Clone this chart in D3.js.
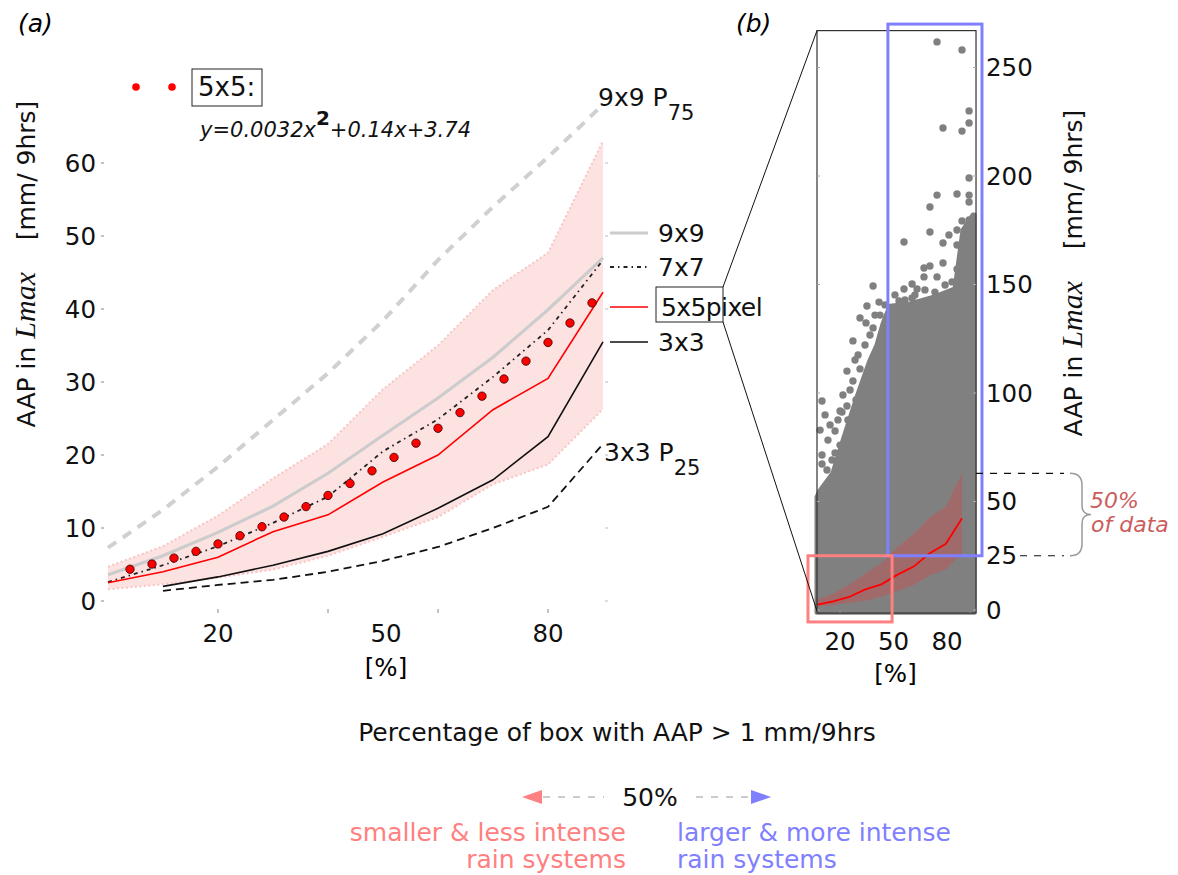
<!DOCTYPE html>
<html><head><meta charset="utf-8">
<script src="https://cdn.jsdelivr.net/npm/d3@7"></script>
<style>
body{margin:0;background:#fff}
svg{display:block}
text{font-family:"DejaVu Sans",sans-serif}
</style>
</head><body>
<svg id="c" width="1178" height="875"></svg>
<script>
// ---------- data ----------
const xBins        = [0,10,20,30,40,50,60,70,80,90];
const med9x9       = [3.6,6.2,9.4,13.0,17.5,22.7,27.8,33.4,39.9,47.0];
const med7x7       = [2.6,4.9,7.5,10.7,14.3,20.5,24.9,30.7,37.1,46.7];
const med5x5       = [2.5,4.0,6.0,9.5,11.8,16.3,20.0,26.2,30.5,42.3];
const med3x3       = [null,2.0,3.3,4.9,6.8,9.2,12.7,16.6,22.5,35.5];
const p75_9x9      = [7.3,12.5,18.4,24.8,31.2,38.4,46.7,54.0,60.8,68.0];
const p25_3x3      = [null,1.4,2.2,2.9,4.0,5.5,7.4,10.0,12.9,21.5];
const band5x5Upper = [4.7,7.5,11.7,16.8,21.5,29.0,35.0,42.6,47.7,63.0];
const band5x5Lower = [1.6,2.3,3.2,4.3,6.2,8.8,11.5,16.0,18.7,26.3];
const fitX = [4,8,12,16,20,24,28,32,36,40,44,48,52,56,60,64,68,72,76,80,84,88];
const fitY = [4.35,5.06,5.88,6.80,7.82,8.94,10.17,11.50,12.93,14.46,16.10,17.83,19.67,21.62,23.66,25.81,28.06,30.41,32.86,35.42,38.08,40.84];
const aYTicks  = [0,10,20,30,40,50,60];
const aXTicks  = [20,40,60,80];
const aXLabels = [20,50,80];
const legendNames = ["9x9","7x7","5x5pixel","3x3"];

// panel (b)
const bYTicks  = [0,25,50,100,150,200,250];
const bXTicks  = [20,93];
const bXLabels = [20,50,80];
const scatterEnvX   = [0,1.9,9.9,16.1,24.8,32.9,37.2,41.0,45.3,57.7,72.0,85.7,90.6,96.8,97.5];
const scatterEnvTop = [52,55,63,78,98,115,122,132,140,141,144,148,175,182,182];
const outlierX = [74.5,90.0,94.4,94.4,78.2,90.0,94.4,74.5,86.9,94.4,94.4,70.1,90.0,94.4,70.1,54.0,81.9,86.9,78.2,86.9,78.2,66.4,70.1,66.4,74.5,86.9,34.8,54.0,59.0,62.1,38.5,31.0,50.9,59.0,26.7,30.4,34.8,22.3,18.6,26.7,22.3,3.1,15.5,18.6,27.3,11.2,3.1,11.2,3.1,18.6,22.3,14.3,
  6.8,8.1,13.0,16.1,20.5,23.6,25.5,29.8,32.9,36.0,39.1,42.2,6.2,9.3,14.3,19.2,24.2,27.9,31.7,35.4,38.5,41.6,1.9,5.0,48.4,54.6,60.8,67.0,73.2,79.5,83.8,87.5,90.0,91.9,93.7];
const outlierY = [261.8,258.1,230.0,224.4,222.1,220.7,199.1,191.2,191.7,191.2,188.0,185.7,179.3,179.7,174.2,169.6,172.8,175.1,169.1,168.2,159.9,157.6,158.5,153.5,153.5,157.1,149.3,147.9,150.2,147.9,141.9,140.1,142.4,143.8,134.6,132.3,130.0,124.0,110.1,111.1,105.5,96.3,91.2,94.0,93.1,82.5,71.4,72.4,67.3,77.0,82.0,91.7,
  78.3,85.3,87.6,99.1,101.4,115.2,117.5,122.1,126.7,135.9,135.9,140.6,64.5,69.1,76.0,87.6,96.8,101.4,108.3,115.2,122.1,126.7,82.9,89.9,145.2,142.9,145.2,147.5,146.5,149.8,151.2,156.7,161.3,165.9,170.5];
const bFrameX = [0,98.7];
const bFrameY = [-1.4,267];
const dataRange50 = [25,63];
const boxLarge = {x:[44,102.4], y:[25,270]};
const boxSmall = {x:[-5.6,46.6], y:[-5.5,25]};

// ---------- setup ----------
const FS = 25, FT = 24.5;
const svg = d3.select("#c");
svg.append("rect").attr("width",1178).attr("height",875).attr("fill","#fff");

const xA = d3.scaleLinear().domain([0,90]).range([108,603]);
const yA = d3.scaleLinear().domain([0,60]).range([601,163]);
const xB = d3.scaleLinear().domain([0,90]).range([817,962]);
const yB = d3.scaleLinear().domain([0,250]).range([610,67.5]);
const xBAxis = d3.scaleLinear().domain([20,80]).range([840,947]);

const pts = arr => xBins.map((x,i)=>({x, y:arr[i]})).filter(d=>d.y!=null);
const lineA = d3.line().x(d=>xA(d.x)).y(d=>yA(d.y));
const lineB = d3.line().x(d=>xB(d.x)).y(d=>yB(d.y));
const bandData = xBins.map((x,i)=>({x, lo:band5x5Lower[i], hi:band5x5Upper[i]}));

// ---------- panel (a) ----------
const gA = svg.append("g");
gA.append("path").datum(bandData)
  .attr("d", d3.area().x(d=>xA(d.x)).y0(d=>yA(d.lo)).y1(d=>yA(d.hi)))
  .attr("fill","#fde2e2");
[band5x5Upper, band5x5Lower].forEach(arr=>{
  gA.append("path").datum(pts(arr)).attr("d",lineA).attr("fill","none")
    .attr("stroke","#f8c4c4").attr("stroke-width",2).attr("stroke-dasharray","2,2.5");
});
gA.append("path").datum(pts(p75_9x9)).attr("d",lineA).attr("fill","none")
  .attr("stroke","#d0d0d0").attr("stroke-width",4).attr("stroke-dasharray","10,8");
gA.append("path").datum(pts(med9x9)).attr("d",lineA).attr("fill","none")
  .attr("stroke","#cccccc").attr("stroke-width",3.2);
gA.append("path").datum(pts(med7x7)).attr("d",lineA).attr("fill","none")
  .attr("stroke","#222").attr("stroke-width",1.8).attr("stroke-dasharray","4,4,1.5,4");
gA.append("path").datum(pts(med5x5)).attr("d",lineA).attr("fill","none")
  .attr("stroke","#ff0000").attr("stroke-width",1.6);
gA.append("path").datum(pts(med3x3)).attr("d",lineA).attr("fill","none")
  .attr("stroke","#111").attr("stroke-width",1.6);
gA.append("path").datum(pts(p25_3x3)).attr("d",lineA).attr("fill","none")
  .attr("stroke","#111").attr("stroke-width",1.8).attr("stroke-dasharray","8,5");
gA.selectAll("circle.fit").data(fitX.map((x,i)=>({x,y:fitY[i]}))).enter()
  .append("circle").attr("cx",d=>xA(d.x)).attr("cy",d=>yA(d.y)).attr("r",4.2)
  .attr("fill","#ff0000").attr("stroke","#300").attr("stroke-width",0.8);

// axes (a)
aYTicks.forEach(v=>{
  gA.append("line").attr("x1",101).attr("x2",104).attr("y1",yA(v)).attr("y2",yA(v)).attr("stroke","#888");
  gA.append("line").attr("x1",605).attr("x2",608).attr("y1",yA(v)).attr("y2",yA(v)).attr("stroke","#bbb");
  gA.append("text").attr("x",96).attr("y",yA(v)).attr("dy","0.35em").attr("text-anchor","end")
    .attr("font-size",FT).attr("fill","#111").text(v);
});
aXTicks.forEach(v=>{
  gA.append("line").attr("x1",xA(v)).attr("x2",xA(v)).attr("y1",609).attr("y2",613).attr("stroke","#888");
});
aXLabels.forEach(v=>{
  gA.append("text").attr("x",xA(v)+(v===50?3:0)).attr("y",642).attr("text-anchor","middle")
    .attr("font-size",FT).attr("fill","#111").text(v);
});
gA.append("text").attr("x",xA(50)+3).attr("y",676).attr("text-anchor","middle").attr("font-size",FT).text("[%]");

// y label
function yLabel(x,y){
  const t = svg.append("text").attr("transform",`translate(${x},${y}) rotate(-90)`)
    .attr("text-anchor","middle").attr("font-size",FS).attr("fill","#111");
  t.append("tspan").text("AAP in ");
  t.append("tspan").attr("font-family","'Liberation Serif','DejaVu Serif',serif").attr("font-style","italic").attr("font-size",30).text("Lmax");
  t.append("tspan").text("\u00a0\u00a0\u00a0\u00a0[mm/ 9hrs]");
}
yLabel(35,264);

// legend (a)
const legY = [233,267,307,342];
const legStyles = [
  {stroke:"#cccccc", w:3.2, dash:null},
  {stroke:"#222", w:1.8, dash:"4,4,1.5,4"},
  {stroke:"#ff0000", w:1.6, dash:null},
  {stroke:"#111", w:1.6, dash:null}
];
legendNames.forEach((n,i)=>{
  const s = legStyles[i];
  const l = gA.append("line").attr("x1",610).attr("x2",648).attr("y1",legY[i]).attr("y2",legY[i])
    .attr("stroke",s.stroke).attr("stroke-width",s.w);
  if(s.dash) l.attr("stroke-dasharray",s.dash);
  gA.append("text").attr("x",i===2?661:658).attr("y",legY[i]+9).attr("font-size",FS).attr("fill","#111")
    .attr("letter-spacing", i===2 ? "-0.6" : null).text(n);
});
gA.append("rect").attr("x",656).attr("y",287).attr("width",67).attr("height",35)
  .attr("fill","none").attr("stroke","#222").attr("stroke-width",1);

// P labels
function pLabel(x,y,main,sub){
  const t = gA.append("text").attr("x",x).attr("y",y).attr("font-size",FS).attr("fill","#111");
  t.append("tspan").text(main);
  t.append("tspan").attr("dy",14).attr("font-size",21).text(sub);
}
pLabel(598,106,"9x9 P","75");
pLabel(604,461,"3x3 P","25");

// fit legend
[136,172].forEach(cx=>gA.append("circle").attr("cx",cx).attr("cy",87).attr("r",3.8).attr("fill","#ff0000"));
gA.append("rect").attr("x",192).attr("y",69).attr("width",70).attr("height",37)
  .attr("fill","none").attr("stroke","#222").attr("stroke-width",1);
gA.append("text").attr("x",198).attr("y",96).attr("font-size",26).attr("fill","#111").text("5x5:");
const eq = gA.append("text").attr("x",200).attr("y",137).attr("font-size",21).attr("font-style","italic").attr("fill","#111");
eq.append("tspan").text("y=0.0032x");
eq.append("tspan").attr("dy",-12).attr("font-size",20).attr("font-style","normal").attr("font-weight","bold").text("2");
eq.append("tspan").attr("dy",12).text("+0.14x+3.74");

svg.append("text").attr("x",18).attr("y",32).attr("font-size",FS).attr("font-style","italic").text("(a)");
svg.append("text").attr("x",736).attr("y",32).attr("font-size",FS).attr("font-style","italic").text("(b)");

// ---------- panel (b) ----------
const gB = svg.append("g");
const fx0 = xB(bFrameX[0]), fx1 = xB(bFrameX[1]), fy0 = yB(bFrameY[1]), fy1 = yB(bFrameY[0]);
const envPts = scatterEnvX.map((x,i)=>({x,y:scatterEnvTop[i]}));
gB.append("path").datum(envPts)
  .attr("d", d3.area().x(d=>xB(d.x)).y0(yB(-1)).y1(d=>yB(d.y)))
  .attr("fill","#808080").attr("stroke","#808080").attr("stroke-width",5).attr("stroke-linejoin","round");
gB.selectAll("circle.out").data(outlierX.map((x,i)=>({x,y:outlierY[i]}))).enter()
  .append("circle").attr("cx",d=>xB(d.x)).attr("cy",d=>yB(d.y)).attr("r",3.7).attr("fill","#808080");
gB.append("path").datum(bandData)
  .attr("d", d3.area().x(d=>xB(d.x)).y0(d=>yB(d.lo)).y1(d=>yB(d.hi)))
  .attr("fill","rgba(215,70,70,0.38)");
gB.append("path").datum(pts(med5x5)).attr("d",lineB).attr("fill","none")
  .attr("stroke","#ff0000").attr("stroke-width",1.8);
gB.append("rect").attr("x",fx0).attr("y",fy0).attr("width",fx1-fx0).attr("height",fy1-fy0)
  .attr("fill","none").attr("stroke","#333").attr("stroke-width",1.2);

bYTicks.forEach(v=>{
  gB.append("line").attr("x1",fx1-3).attr("x2",fx1).attr("y1",yB(v)).attr("y2",yB(v)).attr("stroke","#aaa");
  gB.append("line").attr("x1",fx0).attr("x2",fx0+3).attr("y1",yB(v)).attr("y2",yB(v)).attr("stroke","#aaa");
  gB.append("text").attr("x",986).attr("y",yB(v)).attr("dy","0.35em").attr("font-size",FT).attr("fill","#111").text(v);
});
bXTicks.forEach(v=>{
  gB.append("line").attr("x1",xBAxis(v)).attr("x2",xBAxis(v)).attr("y1",fy1-3).attr("y2",fy1).attr("stroke","#888");
});
bXLabels.forEach(v=>{
  gB.append("text").attr("x",xBAxis(v)).attr("y",650).attr("text-anchor","middle").attr("font-size",FT).attr("fill","#111").text(v);
});
gB.append("text").attr("x",xBAxis(50)+2).attr("y",682).attr("text-anchor","middle").attr("font-size",FT).text("[%]");
yLabel(1082,273);

// highlight boxes
gB.append("rect").attr("x",xB(boxLarge.x[0])).attr("y",yB(boxLarge.y[1]))
  .attr("width",xB(boxLarge.x[1])-xB(boxLarge.x[0])).attr("height",yB(boxLarge.y[0])-yB(boxLarge.y[1]))
  .attr("fill","none").attr("stroke","#8080ff").attr("stroke-width",3);
gB.append("rect").attr("x",xB(boxSmall.x[0])).attr("y",yB(boxSmall.y[1]))
  .attr("width",xB(boxSmall.x[1])-xB(boxSmall.x[0])).attr("height",yB(boxSmall.y[0])-yB(boxSmall.y[1]))
  .attr("fill","none").attr("stroke","#ff8080").attr("stroke-width",3);

// 50% of data annotation
gB.append("line").attr("x1",fx1).attr("x2",1064).attr("y1",yB(dataRange50[1])).attr("y2",yB(dataRange50[1]))
  .attr("stroke","#111").attr("stroke-width",1.2).attr("stroke-dasharray","7,7");
gB.append("line").attr("x1",1020).attr("x2",1064).attr("y1",yB(dataRange50[0])).attr("y2",yB(dataRange50[0]))
  .attr("stroke","#111").attr("stroke-width",1.2).attr("stroke-dasharray","7,7");
const bt = yB(dataRange50[1]), bb = yB(dataRange50[0]), bm = (bt+bb)/2;
gB.append("path").attr("d",`M1070,${bt} Q1082,${bt} 1082,${bt+12} L1082,${bm-9} Q1082,${bm} 1091,${bm} Q1082,${bm} 1082,${bm+9} L1082,${bb-12} Q1082,${bb} 1070,${bb}`)
  .attr("fill","none").attr("stroke","#999").attr("stroke-width",1.5);
gB.append("text").attr("x",1090).attr("y",508).attr("font-size",22).attr("font-style","italic").attr("fill","#cd5c5c").text("50%");
gB.append("text").attr("x",1091).attr("y",532).attr("font-size",22).attr("font-style","italic").attr("fill","#cd5c5c").text("of data");

// zoom connector lines
svg.append("line").attr("x1",fx0).attr("y1",fy0).attr("x2",723).attr("y2",287).attr("stroke","#111").attr("stroke-width",1);
svg.append("line").attr("x1",723).attr("y1",322).attr("x2",fx0).attr("y2",fy1-2).attr("stroke","#111").attr("stroke-width",1);

// ---------- bottom texts ----------
svg.append("text").attr("x",617).attr("y",741).attr("text-anchor","middle").attr("font-size",FS).attr("fill","#111")
  .text("Percentage of box with AAP > 1 mm/9hrs");
svg.append("text").attr("x",650).attr("y",806).attr("text-anchor","middle").attr("font-size",FS).attr("fill","#111").text("50%");
svg.append("line").attr("x1",543).attr("x2",604).attr("y1",797).attr("y2",797).attr("stroke","#ccc").attr("stroke-width",2).attr("stroke-dasharray","7,8");
svg.append("line").attr("x1",696).attr("x2",752).attr("y1",797).attr("y2",797).attr("stroke","#ccc").attr("stroke-width",2).attr("stroke-dasharray","7,8");
svg.append("path").attr("d","M522,797 L542,790 L542,804 Z").attr("fill","#ff8080");
svg.append("path").attr("d","M771,797 L751,790 L751,804 Z").attr("fill","#8080ff");
svg.append("text").attr("x",626).attr("y",841).attr("text-anchor","end").attr("font-size",FS).attr("fill","#ff8080").text("smaller & less intense");
svg.append("text").attr("x",626).attr("y",868).attr("text-anchor","end").attr("font-size",FS).attr("fill","#ff8080").text("rain systems");
svg.append("text").attr("x",677).attr("y",841).attr("font-size",FS).attr("fill","#8080ff").text("larger & more intense");
svg.append("text").attr("x",677).attr("y",868).attr("font-size",FS).attr("fill","#8080ff").text("rain systems");
</script>
</body></html>
